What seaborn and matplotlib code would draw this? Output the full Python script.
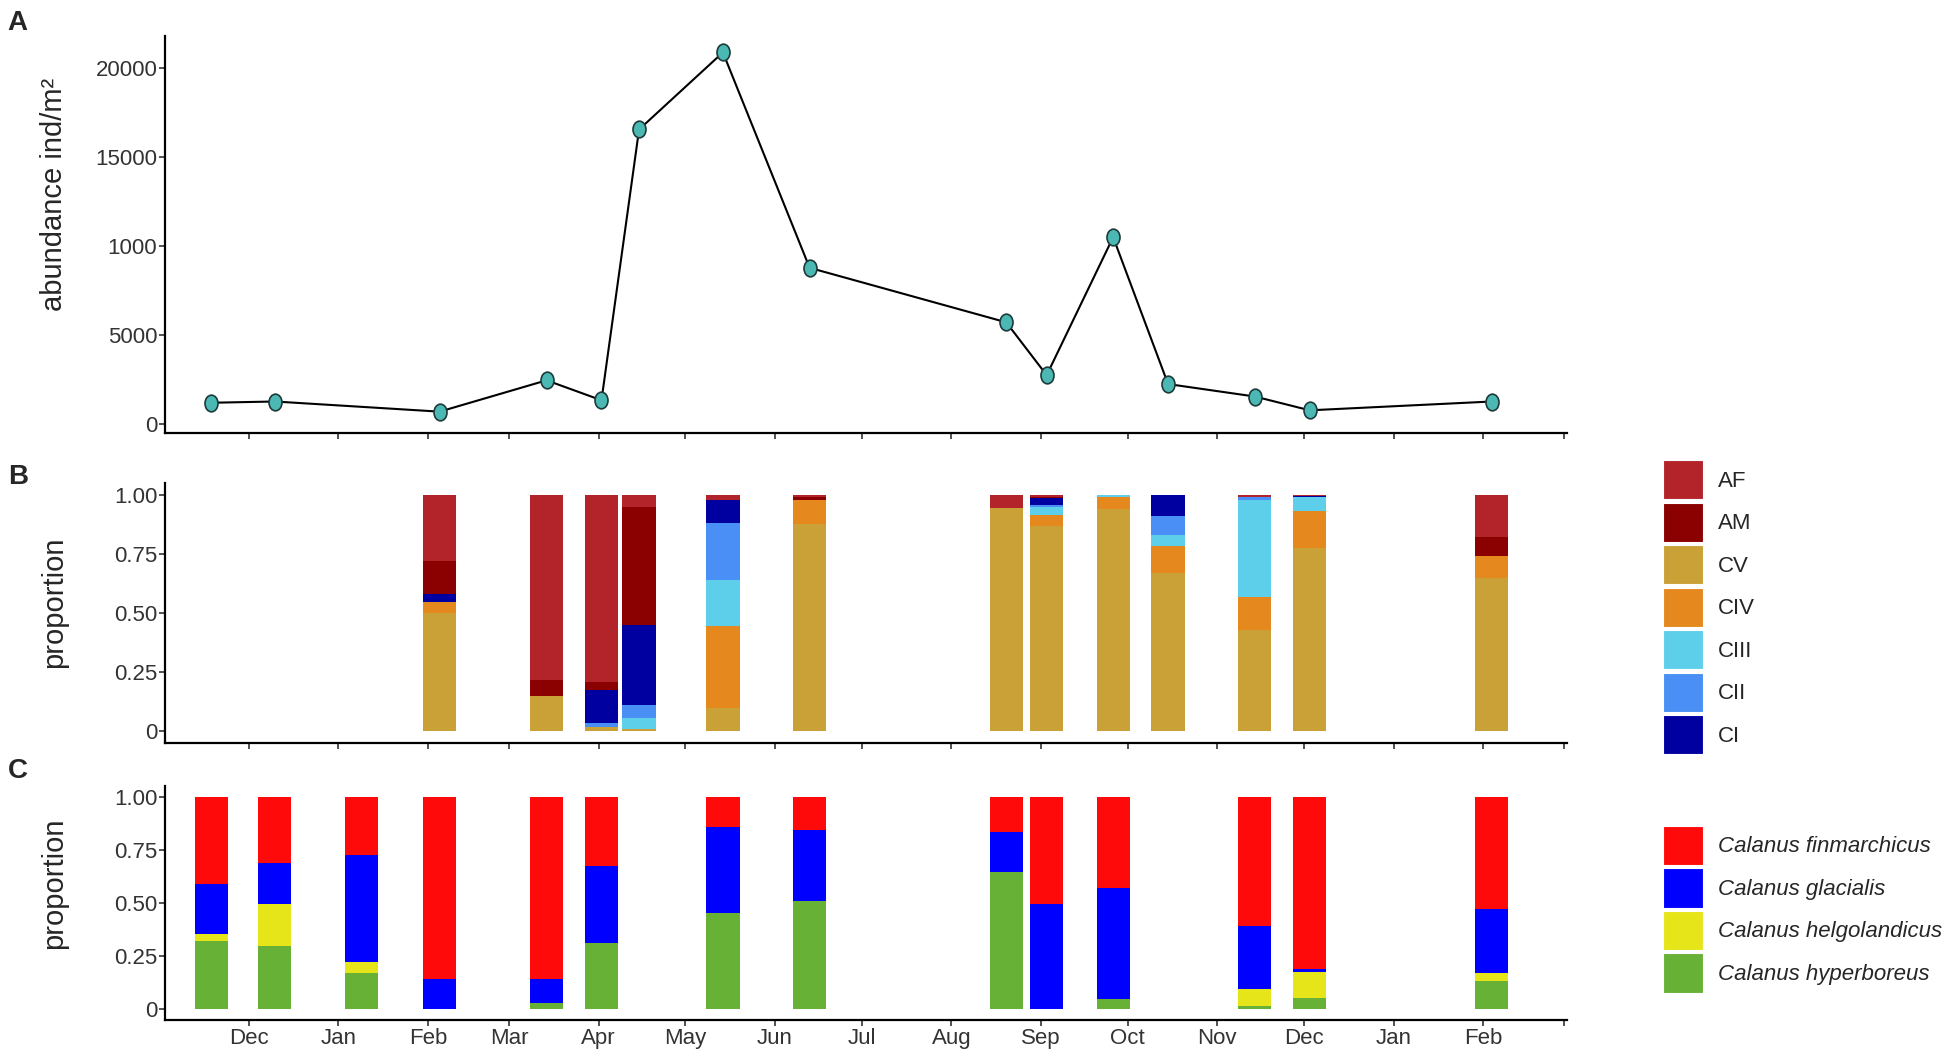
import numpy as np
import pandas as pd
import matplotlib
matplotlib.use('Agg')
import matplotlib.pyplot as plt
from matplotlib.patches import Patch
from matplotlib.path import Path
from matplotlib.transforms import Affine2D
import seaborn as sns

# ---- panel A: total abundance ----
abund_dates = ['2013-11-18', '2013-12-10', '2014-02-05', '2014-03-14', '2014-04-02',
               '2014-04-15', '2014-05-14', '2014-06-13', '2014-08-20', '2014-09-03',
               '2014-09-26', '2014-10-15', '2014-11-14', '2014-12-03', '2015-02-04']
abundance = [1200, 1270, 700, 2460, 1340, 16550, 20880, 8780, 5720, 2750,
             10500, 2250, 1550, 775, 1270]
abund_ticks = [0, 5000, 10000, 15000, 20000]
abund_tick_labels = ['0', '5000', '1000', '15000', '20000']

# ---- panel B: stage composition (bottom -> top: CV, CIV, CIII, CII, CI, AM, AF) ----
stage_dates = ['2014-02-05', '2014-03-14', '2014-04-02', '2014-04-15', '2014-05-14',
               '2014-06-13', '2014-08-20', '2014-09-03', '2014-09-26', '2014-10-15',
               '2014-11-14', '2014-12-03', '2015-02-04']
cv   = [0.50, 0.15, 0.02, 0.01, 0.10, 0.875, 0.945, 0.87, 0.94, 0.67, 0.43, 0.775, 0.65]
civ  = [0.045, 0.0, 0.0, 0.0, 0.345, 0.105, 0.0, 0.045, 0.05, 0.115, 0.14, 0.155, 0.09]
ciii = [0.0, 0.0, 0.0, 0.045, 0.195, 0.0, 0.0, 0.035, 0.01, 0.045, 0.41, 0.06, 0.0]
cii  = [0.0, 0.0, 0.015, 0.055, 0.24, 0.0, 0.0, 0.005, 0.0, 0.08, 0.01, 0.0, 0.0]
ci   = [0.035, 0.0, 0.14, 0.34, 0.10, 0.0, 0.0, 0.03, 0.0, 0.09, 0.0, 0.005, 0.0]
am   = [0.14, 0.065, 0.035, 0.50, 0.0, 0.01, 0.0, 0.008, 0.0, 0.0, 0.0, 0.0, 0.08]
af   = [0.28, 0.785, 0.79, 0.05, 0.02, 0.01, 0.055, 0.007, 0.0, 0.0, 0.01, 0.005, 0.18]
stage_names = ['AF', 'AM', 'CV', 'CIV', 'CIII', 'CII', 'CI']
stage_colors = {'AF': '#B3232A', 'AM': '#8B0000', 'CV': '#C9A136', 'CIV': '#E5881D',
                'CIII': '#5DCFEA', 'CII': '#4A8FF5', 'CI': '#0000A0'}

# ---- panel C: species composition (bottom -> top: hyp, helg, glac, fin) ----
species_dates = ['2013-11-18', '2013-12-10', '2014-01-09', '2014-02-05', '2014-03-14',
                 '2014-04-02', '2014-05-14', '2014-06-13', '2014-08-20', '2014-09-03',
                 '2014-09-26', '2014-11-14', '2014-12-03', '2015-02-04']
hyperboreus   = [0.32, 0.30, 0.17, 0.0, 0.03, 0.31, 0.455, 0.51, 0.645, 0.0, 0.05, 0.015, 0.055, 0.135]
helgolandicus = [0.035, 0.195, 0.055, 0.0, 0.0, 0.0, 0.0, 0.0, 0.0, 0.0, 0.0, 0.08, 0.12, 0.035]
glacialis     = [0.235, 0.195, 0.50, 0.145, 0.115, 0.365, 0.40, 0.335, 0.19, 0.495, 0.52, 0.295, 0.015, 0.30]
finmarchicus  = [0.41, 0.31, 0.275, 0.855, 0.855, 0.325, 0.145, 0.155, 0.165, 0.505, 0.43, 0.61, 0.81, 0.53]
species_names = ['Calanus finmarchicus', 'Calanus glacialis',
                 'Calanus helgolandicus', 'Calanus hyperboreus']
species_colors = ['#FF0A0A', '#0000FF', '#E5E51A', '#67B136']

month_labels = ['Dec', 'Jan', 'Feb', 'Mar', 'Apr', 'May', 'Jun', 'Jul', 'Aug',
                'Sep', 'Oct', 'Nov', 'Dec', 'Jan', 'Feb', '']
proportion_ticks = [0, 0.25, 0.5, 0.75, 1.0]
proportion_labels = ['0', '0.25', '0.50', '0.75', '1.00']

sns.set_theme(style='ticks')
plt.rcParams['font.family'] = ['Liberation Sans', 'DejaVu Sans']

fig = plt.figure(figsize=(19.5, 10.6), dpi=100)
left, width = 0.0846, 0.719
axA = fig.add_axes([left, 0.5915, width, 0.3745])
axB = fig.add_axes([left, 0.299, width, 0.2453])
axC = fig.add_axes([left, 0.0377, width, 0.2208])

bar_days = 11.5
month_ticks = pd.date_range('2013-12-01', '2015-03-01', freq='MS')
xlim = (pd.Timestamp('2013-11-02'), pd.Timestamp('2015-03-02'))
tick_color = '#333333'

# panel A
dfA = pd.DataFrame({'date': pd.to_datetime(abund_dates), 'abundance': abundance})
ellipse = Path.unit_circle().transformed(Affine2D().scale(0.78, 1.0))
sns.lineplot(data=dfA, x='date', y='abundance', ax=axA, color='black', linewidth=1.5,
             marker=ellipse, markersize=12, markerfacecolor='#4BB8B3',
             markeredgecolor='#1E3A3A', markeredgewidth=1.2)
axA.set_ylim(-500, 21800)
axA.set_yticks(abund_ticks)
axA.set_yticklabels(abund_tick_labels)
axA.set_ylabel('abundance ind/m²', fontsize=21)
axA.yaxis.set_label_coords(-0.069, 0.6)


def stacked(ax, dates, layers, colors):
    x = pd.to_datetime(dates)
    bottom = np.zeros(len(x))
    for vals, col in zip(layers, colors):
        vals = np.asarray(vals)
        ax.bar(x, vals, bottom=bottom, width=bar_days, color=col, linewidth=0)
        bottom = bottom + vals


stacked(axB, stage_dates, [cv, civ, ciii, cii, ci, am, af],
        [stage_colors[s] for s in ['CV', 'CIV', 'CIII', 'CII', 'CI', 'AM', 'AF']])
stacked(axC, species_dates, [hyperboreus, helgolandicus, glacialis, finmarchicus],
        species_colors[::-1])

for ax in (axB, axC):
    ax.set_ylim(-0.05, 1.05)
    ax.set_yticks(proportion_ticks)
    ax.set_yticklabels(proportion_labels)
    ax.set_ylabel('proportion', fontsize=21)
axB.yaxis.set_label_coords(-0.069, 0.54)
axC.yaxis.set_label_coords(-0.069, 0.585)

for ax in (axA, axB, axC):
    ax.set_xlim(*xlim)
    ax.set_xticks(month_ticks)
    ax.set_xlabel('')
    ax.grid(False)
    for s in ('top', 'right'):
        ax.spines[s].set_visible(False)
    for s in ('left', 'bottom'):
        ax.spines[s].set_linewidth(1.6)
        ax.spines[s].set_color('black')
    ax.tick_params(axis='both', labelsize=16, labelcolor=tick_color, length=4,
                   width=1.2, color=tick_color, direction='out', pad=1.5)
axA.set_xticklabels([])
axB.set_xticklabels([])
axC.set_xticklabels(month_labels)

# panel letters
for letter, y in (('A', 0.978), ('B', 0.55), ('C', 0.273)):
    fig.text(0.004, y, letter, fontsize=20, fontweight='bold', va='center', ha='left')

# legends
leg_kw = dict(loc='upper left', frameon=False, handlelength=1.77, handleheight=2.35,
              labelspacing=0.14, handletextpad=0.7, borderpad=0, borderaxespad=0)
stage_handles = [Patch(facecolor=stage_colors[s], edgecolor='white', linewidth=0.8)
                 for s in stage_names]
fig.legend(stage_handles, stage_names, bbox_to_anchor=(0.853, 0.566),
           prop={'size': 16}, **leg_kw)
species_handles = [Patch(facecolor=c, edgecolor='white', linewidth=0.8) for c in species_colors]
fig.legend(species_handles, species_names, bbox_to_anchor=(0.853, 0.221),
           prop={'size': 16, 'style': 'italic'}, **leg_kw)

fig.savefig('out.png', dpi=100, facecolor='white')
